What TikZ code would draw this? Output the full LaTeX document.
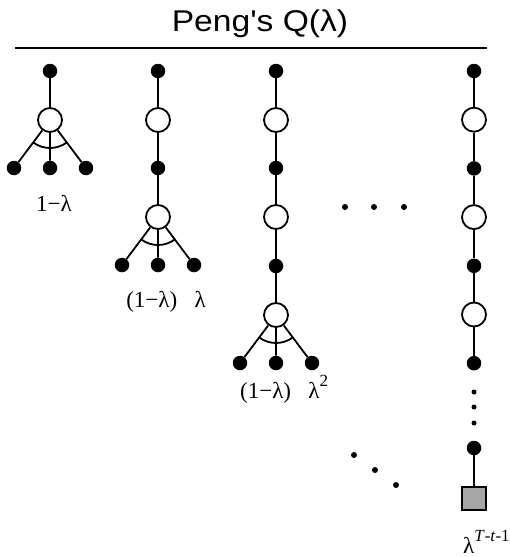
\documentclass[tikz,border=0pt]{standalone}
\usepackage{fontspec}
\usepackage{graphicx}
\setmainfont{Liberation Serif}
\newfontfamily\titlefont{Liberation Sans}
\usetikzlibrary{positioning}
\definecolor{termgray}{HTML}{A6A6A6}
\tikzset{
  edge/.style={line width=1.8pt},
  bdot/.style={circle,fill=black,inner sep=0pt,minimum size=14.5pt},
  wdot/.style={circle,draw=black,fill=white,line width=1.8pt,inner sep=0pt,minimum size=24pt},
  pdot/.style={circle,fill=black,inner sep=0pt,minimum size=6pt},
  term/.style={rectangle,draw=black,fill=termgray,line width=1.8pt,inner sep=0pt,minimum size=23.5pt},
  lab/.style={inner sep=0pt,font=\fontsize{23}{27}\selectfont}
}
\newcommand{\sups}[1]{\raisebox{0.5em}{\fontsize{17}{17}\selectfont #1}}
% three leaves under a circle, with the arc across them
\newcommand{\qfan}[1]{%
  \node[bdot] (#1l) at ([shift={(-36,-48)}]#1.center) {};
  \node[bdot] (#1m) at ([shift={(0,-48)}]#1.center) {};
  \node[bdot] (#1r) at ([shift={(36,-48)}]#1.center) {};
  \draw[edge] (#1) -- (#1l) (#1) -- (#1m) (#1) -- (#1r);
  \draw[edge] ([shift={(234:28)}]#1.center) arc[start angle=234,end angle=306,radius=28];
}

\begin{document}
\begin{tikzpicture}[x=1pt,y=1pt]
  \useasboundingbox (0,0) rectangle (510,-557);
  % title
  \node[anchor=base,inner sep=0pt,font=\titlefont\fontsize{30}{36}\selectfont] (title) at (260,-31) {\scalebox{1.12}[1]{Peng\textquotesingle s Q(λ)}};
  \coordinate (ruleL) at (15,-48);
  \coordinate (ruleR) at (487,-48);
  \draw[line width=1.8pt] (ruleL) -- (ruleR);
  % column 1
  \node[bdot] (a0) at (50,-71) {};
  \node[wdot] (a1) at (50,-120) {};
  \draw[edge] (a0) -- (a1);
  \qfan{a1}
  \node[lab,anchor=base] (lab1) at (54,-211) {1−λ};
  % column 2
  \node[bdot] (b0) at (158,-71) {};
  \node[wdot] (b1) at (158,-120) {};
  \node[bdot] (b2) at (158,-168) {};
  \node[wdot] (b3) at (158,-217) {};
  \draw[edge] (b0) -- (b1) -- (b2) -- (b3);
  \qfan{b3}
  \node[lab,anchor=base] (lab2) at (166,-307) {(1−λ)\hspace{0.75em}λ};
  % column 3
  \node[bdot] (c0) at (276,-71) {};
  \node[wdot] (c1) at (276,-120) {};
  \node[bdot] (c2) at (276,-168) {};
  \node[wdot] (c3) at (276,-217) {};
  \node[bdot] (c4) at (276,-266) {};
  \node[wdot] (c5) at (276,-315) {};
  \draw[edge] (c0) -- (c1) -- (c2) -- (c3) -- (c4) -- (c5);
  \qfan{c5}
  \node[lab,anchor=base west] (lab3) at (240,-398) {(1−λ)\hspace{0.75em}λ\sups{2}};
  % column 4
  \foreach \i in {0,2,4,6}
    \node[bdot] (d\i) at (474,{-71-48.7*\i}) {};
  \foreach \i in {1,3,5}
    \node[wdot] (d\i) at (474,{-71-48.7*\i}) {};
  \draw[edge] (d0) -- (d1) -- (d2) -- (d3) -- (d4) -- (d5) -- (d6);
  \foreach \y [count=\k] in {392,407,423}
    \node[pdot,minimum size=5pt] (v\k) at (474,-\y) {};
  \node[bdot] (d7) at (474,-448) {};
  \node[term] (sq) at (474,-498.5) {};
  \draw[edge] (d7) -- (sq);
  \node[lab,anchor=base west] (lab4) at (463,-553) {λ\sups{\textit{T}-\textit{t}-1}};
  % ellipses
  \foreach \x [count=\k] in {345,374,404}
    \node[pdot] (h\k) at (\x,-207) {};
  \foreach \x/\y [count=\k] in {354/455,375/470,396/485}
    \node[pdot] (g\k) at (\x,-\y) {};
\end{tikzpicture}
\end{document}
